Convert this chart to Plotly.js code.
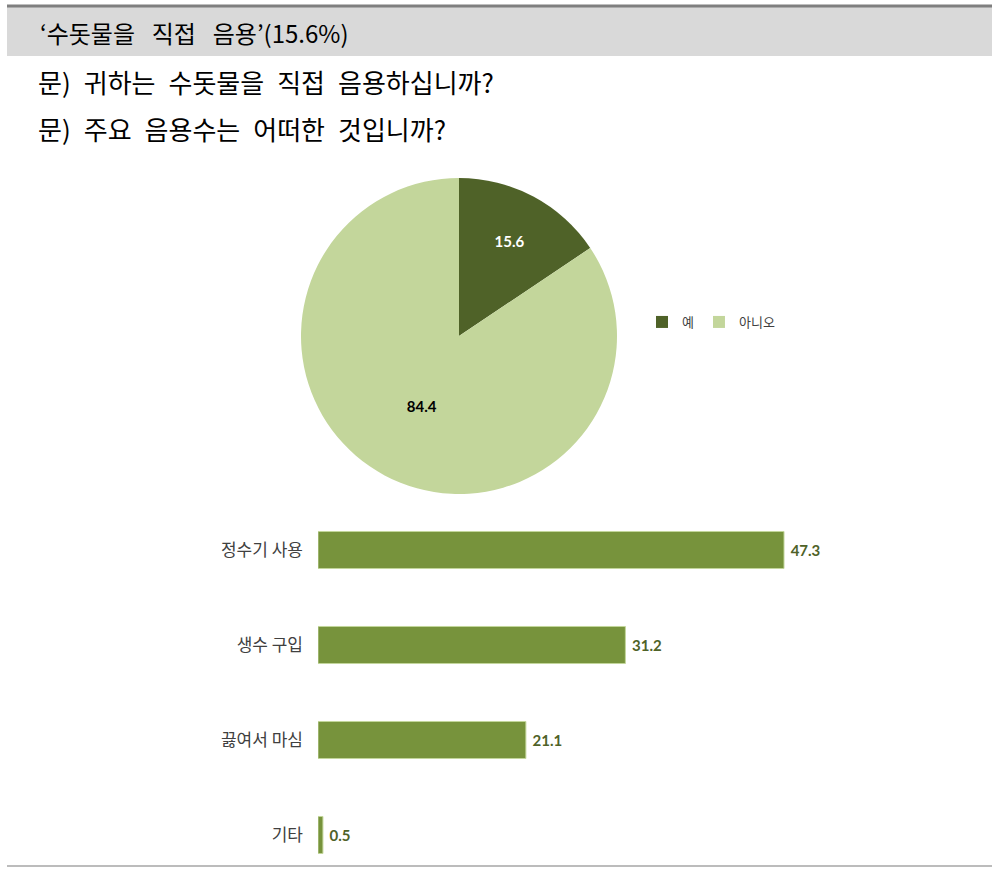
<!DOCTYPE html>
<html>
<head>
<meta charset="utf-8">
<script src="https://cdn.plot.ly/plotly-3.0.1.min.js"></script>
<style>html,body{margin:0;padding:0;background:#fff;}#chart{width:992px;height:869px;}</style>
</head>
<body>
<div id="chart"></div>
<script>
const headerTitle = "‘수돗물을 직접 음용’(15.6%)";
const questions = ["문) 귀하는 수돗물을 직접 음용하십니까?", "문) 주요 음용수는 어떠한 것입니까?"];
const pieLabels = ["예", "아니오"];
const pieValues = [15.6, 84.4];
const barCategories = ["정수기 사용", "생수 구입", "끓여서 마심", "기타"];
const barValues = [47.3, 31.2, 21.1, 0.5];

const W = 992, H = 869;
const px = x => x / W;
const py = y => 1 - y / H;
const wide = (s, sp) => s.split(' ').join(sp);

const traces = [
  {
    type: 'pie',
    labels: pieLabels,
    values: pieValues,
    sort: false,
    direction: 'clockwise',
    rotation: 0,
    domain: {x: [px(301), px(617)], y: [py(494), py(178)]},
    marker: {colors: ['#4f6228', '#c3d69b'], line: {width: 0}},
    textinfo: 'value',
    texttemplate: '%{value:.1f}',
    textposition: 'inside',
    insidetextorientation: 'horizontal',
    textfont: {family: 'Lato, "Open Sans", sans-serif', size: 15, color: ['#ffffff', '#000000'], weight: 'bold'},
    hoverinfo: 'label+value',
    showlegend: true
  },
  {
    type: 'bar',
    orientation: 'h',
    y: barCategories,
    x: barValues,
    xaxis: 'x',
    yaxis: 'y',
    width: 0.39,
    marker: {color: '#77933c', line: {color: '#c3d69b', width: 1}},
    texttemplate: '\u00a0%{x:.1f}',
    textposition: 'outside',
    cliponaxis: false,
    textfont: {family: 'Lato, "Open Sans", sans-serif', size: 15, color: '#4f6228', weight: 'bold'},
    showlegend: false
  }
];

const layout = {
  width: W, height: H,
  margin: {l: 0, r: 0, t: 0, b: 0},
  paper_bgcolor: '#ffffff',
  plot_bgcolor: 'rgba(0,0,0,0)',
  font: {family: '"Noto Sans CJK KR", sans-serif', color: '#404040'},
  showlegend: true,
  legend: {
    orientation: 'h',
    x: px(642), y: py(322), xanchor: 'left', yanchor: 'middle',
    font: {family: '"Noto Sans CJK KR", sans-serif', size: 13, color: '#404040'},
    itemwidth: 30,
    bgcolor: 'rgba(0,0,0,0)'
  },
  xaxis: {
    domain: [px(318), px(318 + 60 * 466 / 47.3)],
    range: [0, 60],
    visible: false,
    fixedrange: true
  },
  yaxis: {
    domain: [py(865), py(505)],
    range: [3 + 30 / 95, -45 / 95],
    type: 'category',
    showgrid: false,
    zeroline: false,
    showline: false,
    ticks: '',
    ticklabelstandoff: 14,
    tickfont: {family: '"Noto Sans CJK KR", sans-serif', size: 17, color: '#404040'},
    fixedrange: true
  },
  shapes: [
    {type: 'rect', xref: 'paper', yref: 'paper', x0: px(7), x1: 1, y0: py(56), y1: py(7), fillcolor: '#d9d9d9', line: {width: 0}, layer: 'below'},
    {type: 'line', xref: 'paper', yref: 'paper', x0: px(7), x1: 1, y0: py(6), y1: py(6), line: {color: '#7f7f7f', width: 3}},
    {type: 'line', xref: 'paper', yref: 'paper', x0: px(7), x1: 1, y0: py(866), y1: py(866), line: {color: '#a6a6a6', width: 1.5}}
  ],
  annotations: [
    {text: wide(headerTitle, '\u2002\u2009'), xref: 'paper', yref: 'paper', x: px(38), y: py(32), xanchor: 'left', yanchor: 'middle', showarrow: false,
     font: {family: '"Noto Sans CJK KR", sans-serif', size: 24, color: '#000000'}},
    {text: wide(questions[0], '\u2002'), xref: 'paper', yref: 'paper', x: px(36), y: py(82), xanchor: 'left', yanchor: 'middle', showarrow: false,
     font: {family: '"Noto Sans CJK KR", sans-serif', size: 26, color: '#000000'}},
    {text: wide(questions[1], '\u2002'), xref: 'paper', yref: 'paper', x: px(36), y: py(128), xanchor: 'left', yanchor: 'middle', showarrow: false,
     font: {family: '"Noto Sans CJK KR", sans-serif', size: 26, color: '#000000'}}
  ]
};

Plotly.newPlot('chart', traces, layout, {displayModeBar: false, staticPlot: true});
</script>
</body>
</html>
